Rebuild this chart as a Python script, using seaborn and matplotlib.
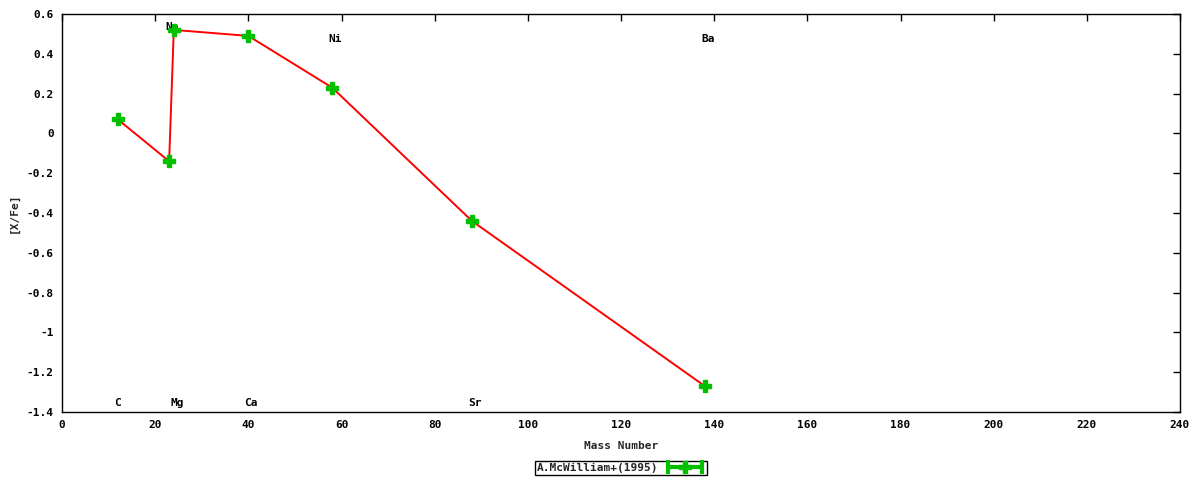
import numpy as np
import matplotlib
matplotlib.use("Agg")
import matplotlib.pyplot as plt
import seaborn as sns
from matplotlib.lines import Line2D
from matplotlib.legend_handler import HandlerLine2D, HandlerTuple
from matplotlib.ticker import FuncFormatter, MultipleLocator

# abundance data
elements = ["C", "Na", "Mg", "Ca", "Ni", "Sr", "Ba"]
mass = [12, 23, 24, 40, 58, 88, 138]
xfe = [0.07, -0.14, 0.52, 0.49, 0.23, -0.44, -1.27]

# element labels: alternate top / bottom of the plot
label_y = [-1.355, 0.535, -1.355, -1.355, 0.475, -1.355, 0.475]

series_name = "A.McWilliam+(1995)"
red = "#ff0000"
green = "#00c000"

sns.set_style("white")
plt.rcParams["font.family"] = ["DejaVu Sans Mono", "DejaVu Sans"]
plt.rcParams["font.weight"] = "bold"
plt.rcParams["font.size"] = 8

fig = plt.figure(figsize=(12, 4.8), dpi=100)
ax = fig.add_axes([62 / 1200, 68 / 480, 1118 / 1200, 398 / 480])

# element names, left-aligned just before each mass number
for name, m, ly in zip(elements, mass, label_y):
    ax.text(m - 0.8, ly, name, ha="left", va="center", fontsize=8,
            fontweight="bold", color="black")

sns.lineplot(x=mass, y=xfe, sort=False, estimator=None, color=red,
             linewidth=1.4, ax=ax, zorder=3)
ax.plot(mass, xfe, linestyle="none", marker="P", markersize=9,
        markerfacecolor=green, markeredgecolor=green, zorder=4)

ax.set_xlim(0, 240)
ax.set_ylim(-1.4, 0.6)
ax.xaxis.set_major_locator(MultipleLocator(20))
ax.yaxis.set_major_locator(MultipleLocator(0.2))
ax.yaxis.set_major_formatter(FuncFormatter(lambda v, p: "%g" % round(v, 2)))
ax.tick_params(direction="in", length=5, width=1, top=True, right=True,
               labelsize=8, colors="black", pad=6)
for sp in ax.spines.values():
    sp.set_color("black")
    sp.set_linewidth(1)
    sp.set_visible(True)

ax.set_xlabel("Mass Number", fontsize=8, fontweight="bold", labelpad=8)
ax.set_ylabel("[X/Fe]", fontsize=8, fontweight="bold", labelpad=6)

# gnuplot-like error bar key sample
caps = Line2D([], [], color=green, linewidth=3, marker="|", markersize=10,
              markeredgewidth=3)
cross = Line2D([], [], linestyle="none", marker="P", markersize=9,
               color=green)
leg = fig.legend([(caps, cross)], [series_name], loc="center",
                 bbox_to_anchor=(621 / 1200, 1 - 468 / 480),
                 handler_map={caps: HandlerLine2D(numpoints=2),
                              cross: HandlerLine2D(numpoints=1),
                              tuple: HandlerTuple(ndivide=1)},
                 markerfirst=False, fancybox=False, framealpha=1,
                 edgecolor="black", borderpad=0.15, handlelength=3.6,
                 handletextpad=0.6, prop={"size": 8, "weight": "bold"})
leg.get_frame().set_linewidth(1)

fig.savefig("out.png", dpi=100)
